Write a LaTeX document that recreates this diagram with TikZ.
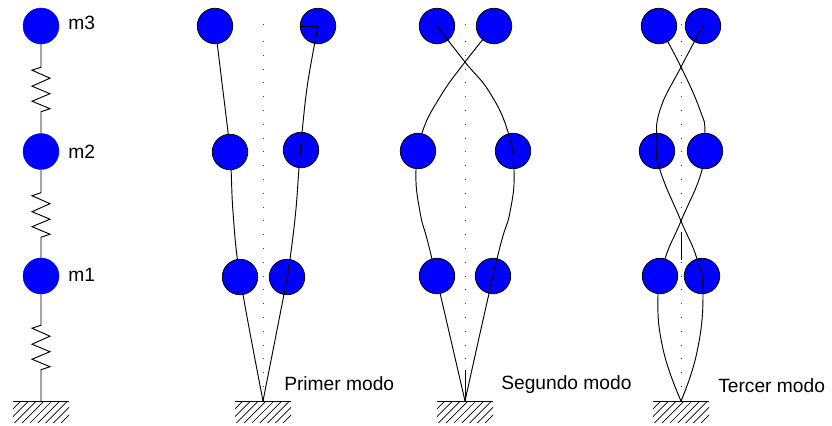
\documentclass[tikz,border=0pt]{standalone}
\usepackage{fontspec}
\setmainfont{Liberation Sans}
\pgfdeclarelayer{back}
\pgfdeclarelayer{front}
\pgfsetlayers{back,main,front}
\tikzset{
  masa/.style={circle,fill=blue,draw=blue,line width=0.3pt,inner sep=0pt,minimum size=27pt},
  masamodo/.style={circle,fill=blue,draw=black,line width=0.6pt,inner sep=0pt,minimum size=26.6pt},
  linea/.style={line width=0.7pt,black},
  eje/.style={line width=0.5pt,black!75,dash pattern=on 0.75pt off 9.6pt},
  rotulo/.style={anchor=west,inner sep=0pt,font=\fontsize{14.4}{16}\selectfont},
}
\newcommand{\resorte}[3]{\draw [linea] (#1.south) -- ++(0,#3) -- ++(-9,3) -- ++(18,8) -- ++(-18,8) -- ++(18,7.5) -- ++(-18,7.5) -- ++(18,7.5) -- ++(-9,3) -- (#2);}
\newcommand{\suelo}[1]{%
  \draw [linea] (#1) ++(-28,0) -- ++(56,0);
  \begin{scope}
    \path [clip] (#1) ++(-28,0) rectangle ++(56,21);
    \foreach \i in {1,...,9} \draw [line width=0.5pt] (#1) ++(-28+7.8*\i,0) -- ++(-24,24);
  \end{scope}}
\begin{document}
\begin{tikzpicture}[x=0.75pt,y=0.75pt,yscale=-1,xscale=1]
\useasboundingbox (0,0) rectangle (832,425);

%Masses of the column
\foreach \n/\y in {m3/26,m2/151.5,m1/276} \node [masa] (\n) at (41,\y) {};
\coordinate (g0) at (41,401);
\coordinate (g1) at (263,401);
\coordinate (g2) at (465,401);
\coordinate (g3) at (681,401);

%Masses that hide the line
\begin{pgfonlayer}{front}
\foreach \n/\x/\y in {a3/215/26,a2/230/152,a1/240/277,
                      c3/494/26,c2/418/151,c1/437/276,
                      e3/659/26,e2/705/151,e1/660/276}
  \node [masamodo] (\n) at (\x,\y) {};
\end{pgfonlayer}
%Masses with the line on top
\begin{pgfonlayer}{back}
\foreach \n/\x/\y in {b3/318/26,b2/301/150,b1/287/277,
                      d3/437/26,d2/513/151,d1/493/276,
                      f3/703/26,f2/657/151,f1/702/276}
  \node [masamodo] (\n) at (\x,\y) {};
\end{pgfonlayer}

%Column
\resorte{m3}{m2}{23}
\resorte{m2}{m1}{23}
\resorte{m1}{g0}{31}
\suelo{g0}

%Primer modo
\suelo{g1}
\draw [eje] (263,41) -- (g1) (263,24) -- (263,25);
\draw [linea] plot [smooth,tension=0.6] coordinates {(a3.center) (222,83) (a2.center) (233,212) (a1.center) (g1)};
\draw [linea] plot [smooth,tension=0.6] coordinates {(b3.center) (307.7,83) (302,133) (299,168) (295.7,212) (290,259) (284,294) (g1)};
\draw [linea] (b3.west) -- (b3.center);

%Segundo modo
\suelo{g2}
\draw [eje] (465,41) -- (g2) (465,24) -- (465,25);
\draw [linea] (465,370) -- (g2);
\draw [linea] plot [smooth,tension=0.8] coordinates {(d3.center) (465,62) (490,93) (508,132) (514,170) (510,212) (497,259) (g2)};
\draw [linea] plot [smooth,tension=0.8] coordinates {(c3.center) (465,62) (440,97) (422,133) (416,169) (420,212) (432,259) (g2)};

%Tercer modo
\suelo{g3}
\draw [eje] (681,41) -- (g3) (681,24) -- (681,25);
\draw [linea] (681,232) -- (681,260);
\draw [linea] plot [smooth,tension=0.8] coordinates {(f3.center) (681,67) (660,110) (657,143) (660,170) (681,221) (697,259) (703,294) (697,352) (g3)};
\draw [linea] plot [smooth,tension=0.8] coordinates {(e3.center) (681,67) (700,110) (705,133) (702,170) (681,221) (665,259) (658,295) (663,349) (g3)};

% Text Node
\node [rotulo] (t3) at (68,23) {m3};
\node [rotulo] (t2) at (68,152) {m2};
\node [rotulo] (t1) at (68,275) {m1};
\node [rotulo] (p1) at (284,384) {Primer modo};
\node [rotulo] (p2) at (501,385) {Segundo modo};
\node [rotulo] (p3) at (718,386) {Tercer modo};

\end{tikzpicture}
\end{document}
